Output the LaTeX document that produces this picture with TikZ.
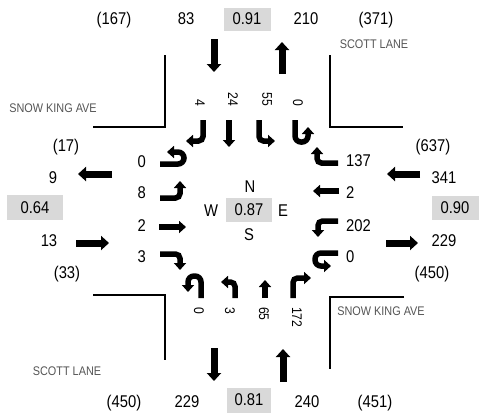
\documentclass[tikz,border=0pt]{standalone}
\usepackage{fontspec}
\setmainfont[FakeStretch=0.87]{Liberation Sans}
\usetikzlibrary{arrows.meta}
\definecolor{boxgray}{RGB}{217,217,217}
\definecolor{streetgray}{RGB}{85,85,85}
\begin{document}
\begin{tikzpicture}[x=1pt,y=-1pt,
  num/.style={font=\fontsize{17}{17}\selectfont, inner sep=0pt, anchor=base},
  numr/.style={num, anchor=base east},
  numl/.style={num, anchor=base west},
  gbox/.style={font=\fontsize{17}{17}\selectfont, inner sep=0pt, fill=boxgray, anchor=center},
  vlab/.style={font=\fontsize{14}{14}\selectfont, inner sep=0pt, rotate=-90},
  street/.style={font=\fontsize{12.5}{12.5}\selectfont, text=streetgray, inner sep=0pt, anchor=center},
  bigarr/.style={line width=7pt, -{Triangle[length=8pt,width=14pt]}},
  turnarr/.style={line width=5.5pt, -{Triangle[length=7pt,width=12pt]}, rounded corners=4.5pt},
  uarr/.style={line width=5.5pt, -{Triangle[length=7pt,width=12pt]}, rounded corners=6pt},
  curb/.style={line width=2pt}
]
\useasboundingbox (0,0) rectangle (484,416);

% curbs
\draw[curb] (165,55) -- (165,127) -- (93,127);
\draw[curb] (330,55) -- (330,127) -- (403,127);
\draw[curb] (93,295) -- (165,295) -- (165,360);
\draw[curb] (404,297) -- (330,297) -- (330,369);

% street names
\node[street] (snowW) at (53,108) {SNOW KING AVE};
\node[street] (scottN) at (374,44) {SCOTT LANE};
\node[street] (scottS) at (67,371.5) {SCOTT LANE};
\node[street] (snowE) at (381,311.5) {SNOW KING AVE};

% top row
\node[num] (t1) at (114,24) {(167)};
\node[num] (t2) at (186,24) {83};
\node[gbox, minimum width=47pt, minimum height=23pt] (t3) at (247,19) {0.91};
\node[num] (t4) at (306,24) {210};
\node[num] (t5) at (376,24) {(371)};

% bottom row
\node[num] (b1) at (124,407) {(450)};
\node[num] (b2) at (187,407) {229};
\node[gbox, minimum width=44pt, minimum height=25pt] (b3) at (249,400) {0.81};
\node[num] (b4) at (307,407) {240};
\node[num] (b5) at (375,407) {(451)};

% left column
\node[num] (l1) at (66,151) {(17)};
\node[num] (l2) at (53,183) {9};
\node[gbox, minimum width=56pt, minimum height=25pt] (l3) at (35,207.5) {0.64};
\node[num] (l4) at (49,246) {13};
\node[num] (l5) at (67,278) {(33)};

% right column
\node[num] (r1) at (433,151) {(637)};
\node[num] (r2) at (444,183) {341};
\node[gbox, minimum width=47pt, minimum height=24pt] (r3) at (455,208) {0.90};
\node[num] (r4) at (444,246) {229};
\node[num] (r5) at (432,278) {(450)};

% centre
\node[num] (cN) at (250,192) {N};
\node[num] (cW) at (211,216) {W};
\node[gbox, minimum width=46pt, minimum height=24pt] (cC) at (249,210) {0.87};
\node[num] (cE) at (283,216) {E};
\node[num] (cS) at (249,240) {S};

% approach / departure arrows
\draw[bigarr] (214,39) -- (214,72);
\draw[bigarr] (282,74) -- (282,42);
\draw[bigarr] (112,174) -- (78,174);
\draw[bigarr] (76,243) -- (109,243);
\draw[bigarr] (420,174) -- (387,174);
\draw[bigarr] (386,243) -- (418,243);
\draw[bigarr] (214,348) -- (214,381);
\draw[bigarr] (283,382) -- (283,349);

% west side (eastbound) movements
\node[numr] (wl1) at (146,167) {0};
\node[numr] (wl2) at (146,198) {8};
\node[numr] (wl3) at (146,231) {2};
\node[numr] (wl4) at (146,262) {3};
\draw[uarr] (160,164) -- (184,164) -- (184,152) -- (167,152);
\draw[turnarr] (160,198) -- (180,198) -- (180,181);
\draw[turnarr] (159,227) -- (186,227);
\draw[turnarr] (160,254) -- (180,254) -- (180,270);

% east side (westbound) movements
\node[numl] (el1) at (346,166) {137};
\node[numl] (el2) at (346,198) {2};
\node[numl] (el3) at (346,231) {202};
\node[numl] (el4) at (346,262) {0};
\draw[turnarr] (338,163) -- (317,163) -- (317,147);
\draw[turnarr] (339,191) -- (313,191);
\draw[turnarr] (338,221) -- (318,221) -- (318,237);
\draw[uarr] (338,253) -- (315,253) -- (315,266) -- (331,266);

% north side (southbound) movements
\node[vlab, anchor=east] (nl1) at (200,106) {4};
\node[vlab, anchor=east] (nl2) at (233,106) {24};
\node[vlab, anchor=east] (nl3) at (267,106) {55};
\node[vlab, anchor=east] (nl4) at (298,106) {0};
\draw[turnarr] (203,120) -- (203,141) -- (186,141);
\draw[turnarr] (229,120) -- (229,147);
\draw[turnarr] (259,120) -- (259,141) -- (275,141);
\draw[uarr] (295,120) -- (295,142) -- (308,142) -- (308,127);

% south side (northbound) movements
\node[vlab, anchor=west] (sl1) at (199,307) {0};
\node[vlab, anchor=west] (sl2) at (230,307) {3};
\node[vlab, anchor=west] (sl3) at (264,307) {65};
\node[vlab, anchor=west] (sl4) at (297,307) {172};
\draw[uarr] (201,298) -- (201,276) -- (188,276) -- (188,292);
\draw[turnarr] (235,298) -- (235,282) -- (221,282);
\draw[turnarr] (265,298) -- (265,280);
\draw[turnarr] (293,298) -- (293,278) -- (311,278);
\end{tikzpicture}
\end{document}
